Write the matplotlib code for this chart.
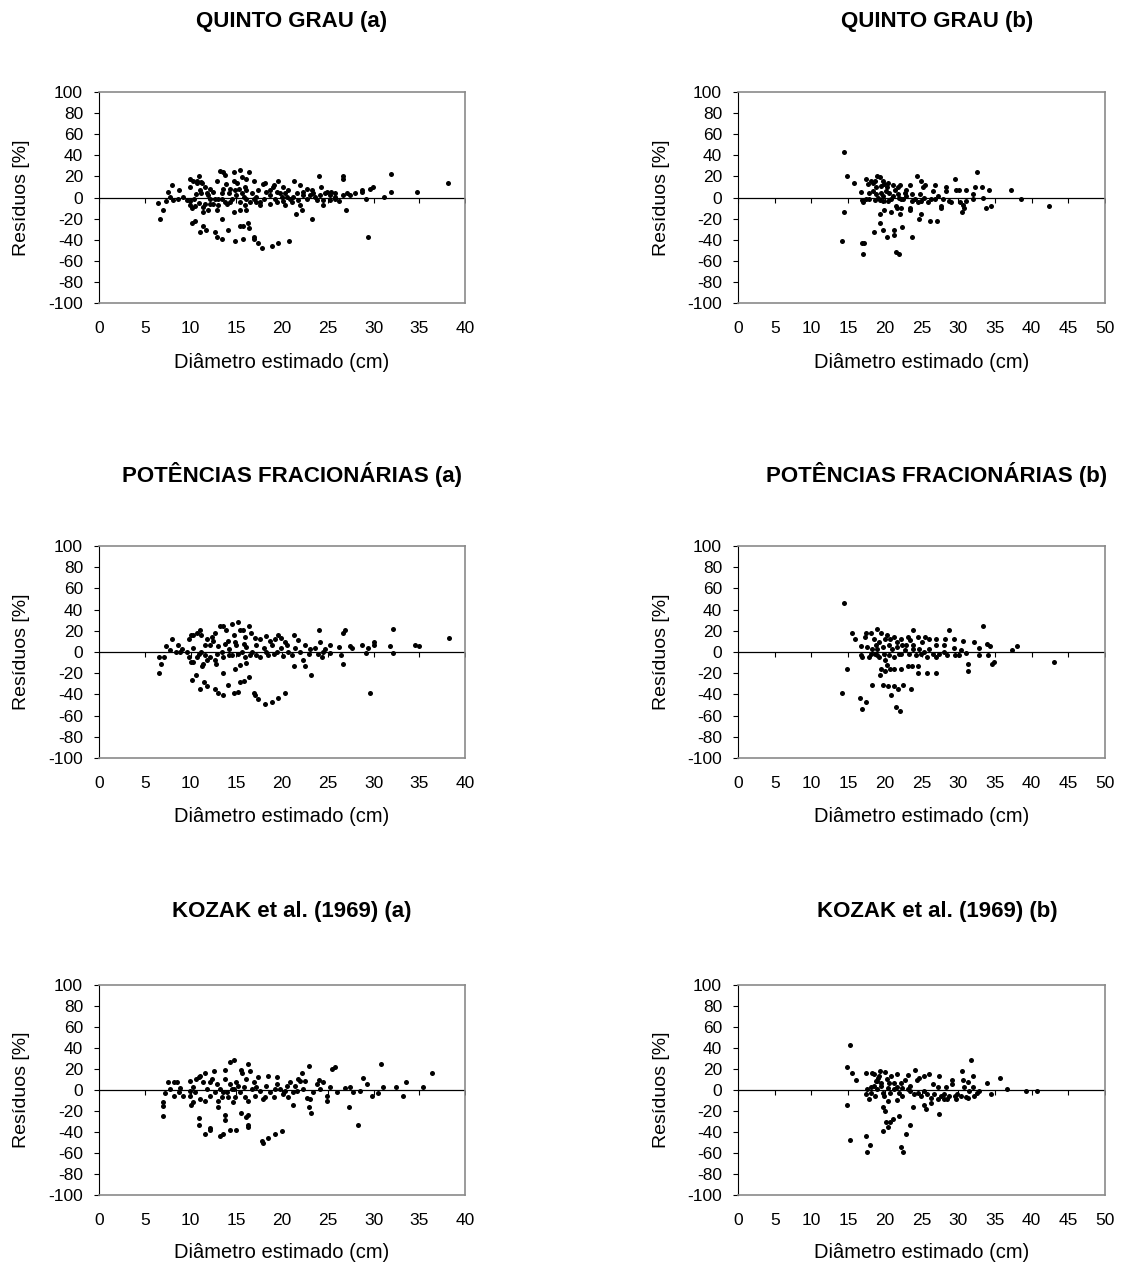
import numpy as np
import matplotlib
matplotlib.use("Agg")
import matplotlib.pyplot as plt

plt.rcParams['font.family'] = ['Liberation Sans', 'DejaVu Sans']

# Resíduos (%) versus diâmetro estimado (cm): pares [x, y]
quinto_a = np.array([
    [6.5, -5], [7.0, -12], [6.7, -20.5], [7.3, -3], [7.5, 5.4], [8.0, 11.7], [7.8, 0.6], [8.1, -2],
    [8.6, -1], [8.7, 7], [9.2, 0.6], [9.6, -2.5], [9.9, -7], [10.2, -10], [9.9, 18], [9.9, 9.5],
    [10.3, 16], [10.7, 16], [10.9, 20], [11.2, 15], [10.6, 3], [10.2, -24.6], [10.5, -22.4],
    [11.0, -33], [11.4, -27], [11.7, -31], [11.4, -13.6], [11.9, -11.4], [11.4, -9], [10.9, -5],
    [11.2, 3.8], [11.6, 10], [12.1, 7.6], [12.5, 5.4], [12.7, -1.6], [12.9, -12], [13.0, -7],
    [12.7, -33], [12.9, -37], [13.4, -39.5], [13.4, -20.5], [14.1, -31], [14.9, -41.7],
    [15.7, -39.5], [15.4, -27], [15.7, -27], [16.3, -24.6], [16.4, -28.8], [16.9, -37], [16.9, -39],
    [17.4, -43.6], [17.8, -48], [18.9, -46], [19.6, -43.6], [20.8, -41.7], [29.4, -37], [13.2, 25],
    [13.5, 24], [13.8, 21], [14.7, 24], [15.4, 26.5], [15.6, 19.6], [16.1, 18], [16.4, 24],
    [16.9, 15.8], [17.9, 13], [14.7, 16], [13.9, 13], [12.9, 15.8], [15.1, 14], [19.6, 15.8],
    [21.3, 15.8], [20.1, 10], [22.0, 11.7], [24.0, 20], [24.3, 9.5], [23.3, 7], [26.7, 20],
    [26.7, 18], [24.9, 5.4], [25.4, 5.4], [26.2, -3], [27.0, -12], [23.3, -20.5], [21.5, -15.8],
    [22.2, -12], [22.0, -7], [24.5, -7], [26.7, 2], [27.4, 2], [28.0, 3.8], [28.7, 7], [28.7, 5.4],
    [29.2, -1], [29.6, 7.6], [29.9, 9.5], [31.1, 0.6], [31.9, 22], [31.9, 5.4], [34.8, 5.4],
    [38.1, 14],
    [13.6, 8.5], [14.2, 3.8], [14.5, -1], [15.0, 2.2], [15.8, 0.6], [16.1, 7], [16.7, 3.8],
    [17.2, 0.6], [17.6, -4], [18.0, -1], [18.3, 5.4], [18.7, 7], [19.1, 11.7], [19.2, -1],
    [19.4, -4], [20.0, 0.6], [20.3, 4.4], [20.7, 7], [20.9, -1], [21.2, 0.6], [21.6, 3.8],
    [21.8, -2], [22.3, 2.2], [22.7, -1], [23.1, 2.2], [23.6, 0.6], [24.2, 2.2], [24.5, -2],
    [25.2, 2.2], [25.8, 4.4], [13.8, -4], [13.4, 3.8], [13.0, -1], [15.4, -4], [16.0, -7],
    [16.1, -11.4], [15.4, -12], [14.7, -13.6], [17.6, -7], [18.7, -5.7], [20.1, -3], [12.1, -1],
    [11.8, 3.8], [14.3, 7.6], [15.3, 7.6], [17.4, 7], [18.1, 13.3], [19.0, 10], [16.1, -1],
    [16.9, -1], [16.5, -4], [19.8, 3.8], [20.5, 0.6], [22.7, 8.5], [22.3, 5.4], [24.7, 3.8],
    [25.2, -2.5], [25.8, -1], [20.3, -7], [14.0, -6], [14.3, -4], [15.6, 3.8], [17.2, -4],
    [12.1, -5.7], [11.6, -5.7], [12.5, -5.7], [11.9, 2.2], [11.0, 7], [10.7, 13.3], [11.3, 14],
    [10.4, -1], [9.9, -3], [10.5, -8], [13.4, -1], [14.9, 7], [16.0, 10], [18.7, 2.2], [19.4, 5.4],
    [21.1, -4], [23.4, 3.8], [23.8, -2.5], [25.8, 0.6], [27.1, 3.8],
])

quinto_b = np.array([
    [14.5, 43.6], [14.8, 20], [14.5, -13.6], [14.2, -41.7], [15.8, 13.6], [16.7, 5.4],
    [16.9, -43.6], [17.2, -43.6], [17.0, -54], [17.0, -4.7], [16.9, -2.5], [17.4, -1.6],
    [17.5, 18], [17.7, 12.6], [17.9, 4.7], [18.1, 15.8], [18.4, 13.3], [18.5, -33], [18.8, 9.5],
    [19.0, 20], [19.3, 19.6], [19.4, -2.5], [19.4, -15.8], [19.4, -24], [19.7, 15.8], [19.7, -30.7],
    [19.9, -12], [19.9, 12.6], [20.2, 6.3], [20.3, -37.3], [20.4, -3], [20.5, 14], [20.9, -13.3],
    [21.1, 11.7], [21.2, -30.7], [21.2, -35.4], [21.5, -52], [21.9, -54], [21.5, -8], [21.6, -9.5],
    [22.1, 11.7], [22.2, -1.6], [22.1, -15.8], [22.2, -9.5], [22.4, -28.4], [22.7, 4.7],
    [23.4, 11.7], [23.4, -10], [23.5, -12], [23.7, -37.3], [24.4, 20], [24.6, -20.5], [24.9, -15.8],
    [24.9, 15.8], [25.2, 10], [25.5, 12], [26.2, -22], [26.8, 12], [27.1, -22], [26.6, 6.3],
    [27.7, -8], [27.7, -9.5], [28.4, 9.5], [28.3, 5.7], [28.8, -3], [29.0, -4.7], [29.5, 18],
    [29.7, 7], [30.1, 7], [30.3, -4.7], [30.5, -13.6], [30.6, -7], [30.8, -9.5], [31.1, 7],
    [31.0, -3], [32.0, 3.2], [32.0, -1.6], [32.3, 9.5], [32.6, 24.3], [33.2, 9.5], [33.4, -0.6],
    [33.8, -9.5], [34.2, 7], [34.5, -8], [37.2, 7], [38.5, -1.6], [42.4, -8],
    [18.4, 6.3], [18.8, 3.2], [19.1, 0], [19.5, 4.7], [19.8, 1.6], [20.6, 3.8], [21.1, 1.6],
    [21.4, 7], [21.8, 3.2], [22.5, -1.6], [22.9, 1.6], [23.7, 3.2], [24.1, -1.6], [24.5, -4.7],
    [24.8, 3.2], [25.4, 0], [25.9, -4.7], [26.3, -1.6], [26.8, -1.6], [27.2, 1.6], [27.9, -1.6],
    [17.9, -1.6], [18.6, -2.5], [19.8, -3], [20.9, -1.6], [22.0, 0], [23.7, -3], [24.9, -3],
    [19.5, 11], [20.3, 9.5], [21.8, 9.5], [22.9, 7], [18.7, 15.8],
])

potencias_a = np.array([
    [6.6, -4.7], [7.1, -4.7], [6.8, -11.7], [6.6, -20], [7.3, 5.7], [7.8, 1.6], [8.0, 12],
    [8.4, 0], [8.6, 7], [8.9, 0], [9.1, 3.2], [9.6, 0], [9.8, -4.7], [10.1, -9.5], [10.3, -9.5],
    [9.8, 12], [10.1, 16.4], [10.3, 15.8], [10.7, 18], [11.0, 20.5], [11.2, 15.8], [10.3, 3.8],
    [10.2, -26], [10.6, -22], [11.0, -34.8], [11.5, -28.4], [11.8, -32], [11.4, -11], [11.3, -13],
    [11.8, -8], [12.7, -8], [12.8, -11], [12.7, -34.8], [13.0, -39], [13.5, -40.4], [13.5, -20],
    [14.1, -30.7], [14.7, -39], [15.2, -37.3], [14.9, -15.8], [15.4, -12], [15.4, -28.4],
    [15.8, -27.5], [16.4, -24], [16.9, -38.6], [17.1, -41], [17.4, -44.6], [18.1, -49],
    [18.9, -47.4], [19.6, -43.3], [20.3, -39], [29.6, -39], [13.2, 24.6], [13.5, 24.6],
    [13.9, 20.5], [14.5, 26.2], [15.2, 28.4], [15.4, 20.5], [15.7, 20.5], [16.4, 24.6], [16.6, 18],
    [14.7, 15.8], [16.0, 14.2], [17.1, 13.6], [12.7, 18], [19.6, 15.8], [19.9, 13.6], [21.3, 15.8],
    [21.8, 11.7], [24.0, 20.5], [24.1, 9.5], [26.7, 18], [26.9, 20.5], [21.3, -13.6], [22.5, -13.6],
    [23.2, -22], [22.3, -7.3], [24.4, -4.7], [26.7, -11.7], [26.4, -3.2], [26.2, 4.7], [27.4, 5.7],
    [27.7, 3.8], [28.7, 7], [29.2, -0.6], [29.4, 3.8], [30.1, 9.5], [30.1, 7], [31.8, 5.7],
    [32.1, 22], [32.1, -1], [34.5, 7], [35.0, 5.7], [38.2, 13.6], [25.2, 7], [24.7, 3.2],
    [12.1, 7], [12.5, 10], [13.0, 5.4], [13.4, 0], [13.8, 7.6], [14.2, 3.2], [14.5, -3.2],
    [15.0, 6.3], [15.6, 0], [16.1, 4.7], [16.7, 0], [17.2, -3.2], [17.6, 12.6], [18.0, 3.8],
    [18.3, 14.8], [18.5, -3.2], [18.9, 7], [19.2, 12.6], [19.4, 0], [19.9, 3.8], [20.3, 9.5],
    [20.7, 0], [21.1, -3.2], [21.4, 3.8], [22.0, 0], [22.5, 7], [22.9, -1.6], [23.1, 3.2],
    [23.6, 3.8], [23.9, -1.6], [24.5, 0], [25.2, -0.6], [11.2, 0], [11.6, -3.2], [12.1, -4.7],
    [12.9, -1.6], [13.6, -4.7], [14.2, -2.5], [15.2, -1.6], [16.0, -4.7], [16.1, -10], [16.5, -2.5],
    [17.6, -4.7], [18.3, 0], [19.1, -1.6], [20.1, -3.8], [10.7, -4.7], [10.9, -1.6], [11.6, 7],
    [11.8, 12.6], [12.3, 13.9], [14.1, 10], [14.9, 9.5], [15.8, 7.9], [17.2, 6.3], [18.7, 10.7],
    [20.5, 6.3],
])

potencias_b = np.array([
    [14.5, 45.8], [15.5, 18], [14.8, -15.8], [14.2, -38.9], [16.0, 12], [16.7, 5.4], [16.7, -3.2],
    [16.9, -4.7], [16.6, -43.3], [17.5, -47.4], [16.95, -53.7], [17.3, 14.2], [17.5, 18],
    [17.6, 4.7], [17.9, -4.7], [18.1, 18], [18.2, -30.7], [18.5, 12.6], [18.6, -1.6], [19.0, 22],
    [19.0, 3.2], [19.3, -22], [19.5, -15.8], [19.5, 18], [19.7, -30.7], [20.0, -18], [20.0, -8],
    [20.3, 15.8], [20.3, -12], [20.4, -32.5], [20.6, -3.2], [20.7, -15.8], [20.9, -41],
    [21.2, -32.5], [21.2, -4.7], [21.3, -15.8], [21.3, 14.2], [21.5, -51.5], [21.8, -34.8],
    [22.1, -56], [22.2, -15.8], [22.2, 12.6], [22.5, -30.7], [23.1, -13.6], [23.1, 14.2],
    [23.6, -34.8], [23.7, -13.6], [23.9, 20.5], [24.5, -13.6], [24.5, -20], [24.5, 14.2],
    [25.1, 9.5], [25.5, 14.2], [25.8, -20], [26.0, 12.6], [27.0, -20], [27.0, 12.6], [27.0, 6.3],
    [28.2, 12.6], [28.1, 6.3], [28.8, 20.5], [29.4, 12.6], [29.4, 3.8], [29.5, -3.2], [30.1, -3.2],
    [30.4, 1.6], [30.7, 10], [31.0, -0.6], [31.3, -11], [31.3, -18], [32.2, 9.5], [32.8, 3.8],
    [32.8, -3.2], [33.4, 24.6], [33.9, 7.9], [34.0, -3.2], [34.3, 5.7], [34.6, -11.7], [34.9, -9.5],
    [37.3, 1.6], [37.95, 5.7], [43.1, -9.5],
    [18.3, 3.2], [18.8, 6.3], [19.2, 9.5], [19.7, 4.7], [19.9, -1.6], [20.6, 6.3], [21.0, 3.2],
    [21.7, 4.7], [21.95, -1.6], [22.4, 6.3], [22.7, 1.6], [23.3, -1.6], [23.5, 11], [23.9, 3.2],
    [24.2, -3.2], [24.7, 3.2], [24.9, -1.6], [25.4, 0], [25.8, -4.7], [26.0, 3.2], [26.5, -1.6],
    [27.0, -4.7], [27.4, -1.6], [28.1, 0], [28.5, -2.5], [19.2, -4.7], [18.1, -1.6], [19.0, -3.2],
    [20.0, 12.6], [20.7, 12.6], [21.7, 9.5], [22.9, 7], [23.8, 6.3], [22.2, -1.6],
])

kozak_a = np.array([
    [7.0, -11.7], [7.0, -14.9], [7.0, -24.4], [7.2, -3.2], [7.5, 7.3], [7.8, 1], [8.2, 7.3],
    [8.5, 7.3], [8.2, -5.4], [8.7, -2.2], [8.9, 1.6], [9.2, -5.4], [9.9, 8.9], [9.9, -5.4],
    [10.1, -14.2], [10.3, -11.7], [10.5, -2.2], [10.6, 10.4], [10.9, 12], [11.0, 13.6],
    [11.6, 16.1], [10.9, -26.9], [10.9, -33.2], [11.6, -41.8], [12.1, -36.1], [12.1, -37.7],
    [12.6, 17.7], [13.0, -16.5], [13.2, -43.4], [13.5, -41.8], [13.8, 19.3], [14.3, 26.3],
    [14.8, 28.5], [13.8, -23.7], [13.8, -28.5], [14.3, -37.7], [15.0, -37.7], [14.6, -11.7],
    [15.5, -22.2], [16.1, -26], [16.3, -23.7], [16.3, -32.9], [16.3, -34.8], [15.5, 19.3],
    [15.6, 16.1], [16.3, 24.7], [16.5, 17.7], [17.8, -48.1], [17.9, -50.3], [18.5, -45.9],
    [19.2, -41.8], [20.0, -39.2], [22.2, 16.1], [23.0, 22.5], [25.8, 21.5], [25.5, 19.9],
    [22.95, -16.5], [23.2, -22.2], [21.2, -14.2], [27.3, -15.8], [28.3, -33.2], [27.8, -2.2],
    [28.8, 11.4], [29.3, 5.7], [29.8, -5.4], [30.5, -3.2], [30.8, 24.7], [31.0, 3.2], [32.5, 3.2],
    [33.2, -5.4], [33.5, 7.3], [35.4, 3.2], [36.4, 16.1], [21.8, 10.4], [22.7, -7.9], [24.0, 9.5],
    [24.5, 7.3], [24.9, -5.4], [24.9, -10.1], [26.0, -2.2], [26.9, 1.6], [27.4, 3.2], [28.5, -0.6],
    [19.4, 5.7], [21.2, -2.2],
    [11.4, 7.3], [11.8, 1], [12.1, -5.4], [12.3, 10.4], [12.9, 5.7], [13.2, 1], [13.4, -7],
    [13.8, 10.4], [14.0, -2.2], [14.3, 5.7], [14.5, 1], [14.9, -7], [15.2, 4.1], [15.4, -2.2],
    [15.8, 2.5], [15.96, -7], [16.1, 10.4], [16.7, 1], [16.9, 7.3], [17.1, -5.4], [17.4, 12],
    [17.6, -0.6], [17.96, -8.5], [18.3, 4.1], [18.5, 13.6], [18.7, -2.2], [19.1, -7], [19.4, 12],
    [19.8, 1], [20.1, -3.8], [20.5, 4.1], [20.7, -7], [20.9, 7.3], [21.4, 4.1], [21.6, -0.6],
    [21.96, 8.9], [22.3, 1], [22.5, 8.9], [23.1, -8.5], [23.4, -2.2], [23.8, 5.7], [24.1, 1],
    [25.2, 2.5], [9.9, -0.6], [10.3, 2.5], [11.0, -8.5], [11.6, -10.1], [12.1, 7.3], [12.7, -2.2],
    [13.0, -10.1], [13.6, -2.2], [14.1, -7], [14.7, 1], [15.0, 7.3], [16.3, -10.1], [17.2, 2.5],
    [18.1, -7], [19.2, 1], [20.3, -0.6],
])

kozak_b = np.array([
    [15.2, 43.2], [14.9, 22], [15.5, 15.8], [16.1, 9.1], [14.9, -14.2], [15.2, -47.9], [17.4, 15.8],
    [17.4, -43.5], [18.0, -52.3], [17.6, -58.6], [17.6, 0.6], [17.4, -4.1], [17.9, -8.8],
    [18.1, 2.8], [18.3, 16.4], [18.5, 15.4], [18.6, -5.7], [19.0, 8.5], [19.1, 11.7], [19.4, 18],
    [19.5, 6.9], [19.8, -16.1], [19.8, -39.4], [19.9, -5.7], [20.0, -19.8], [20.05, 17],
    [20.1, -30.9], [20.3, 10.1], [20.4, -35], [20.5, -10.4], [20.7, -30.9], [20.8, 13.2],
    [21.05, -27.7], [21.3, 6.9], [21.6, 15.4], [21.6, -9.8], [21.95, -24.6], [22.2, -53.9],
    [22.5, -58.6], [22.4, 2.2], [22.8, 9.1], [22.9, -41.9], [23.2, 13.9], [23.5, -33.1],
    [23.9, -16.1], [24.1, 19.5], [24.4, 9.1], [24.7, 11.7], [25.3, -14.2], [25.4, 13.2],
    [25.6, -18.3], [26.0, 15.4], [26.3, -12], [26.5, 5.4], [27.4, 13.2], [27.4, -22.4], [27.2, 2.8],
    [28.0, -4.1], [28.3, 2.8], [28.5, -8.8], [29.2, 9.1], [29.2, 5.4], [29.5, -5.7], [29.9, -4.1],
    [30.5, 18], [30.7, 9.1], [30.8, 2.8], [31.3, 7.6], [31.4, -7.9], [31.7, 28.4], [32.0, 13.2],
    [32.05, 2.8], [32.1, -5.7], [32.6, -2.5], [32.9, -0.9], [33.9, 6.9], [34.5, -3.5], [35.7, 11.3],
    [36.6, 1.3], [39.3, -0.9], [40.8, -0.9],
    [18.1, -2.5], [18.5, 3.8], [19.0, 0.6], [19.5, 3.8], [19.7, -2.5], [20.4, 2.2], [20.7, -2.5],
    [21.2, 0.6], [21.7, 2.8], [21.95, -2.5], [22.4, -5.7], [23.1, 0.6], [23.5, -0.9], [24.0, -4.1],
    [24.5, -2.5], [24.9, -5.7], [25.4, -0.9], [25.8, -4.1], [26.3, -7.2], [26.7, -4.1], [27.2, -8.8],
    [27.6, -5.7], [28.1, -8.8], [28.8, -5.7], [29.7, -8.8], [30.4, -5.7], [31.0, -6.6], [31.5, -0.9],
    [18.8, 8.5], [19.2, 13.2], [20.6, 6.9], [22.2, 6.9], [23.5, 3.8],
])

titles = [
    "QUINTO GRAU (a)", "QUINTO GRAU (b)",
    "POTÊNCIAS FRACIONÁRIAS (a)", "POTÊNCIAS FRACIONÁRIAS (b)",
    "KOZAK et al. (1969) (a)", "KOZAK et al. (1969) (b)",
]
panels = [quinto_a, quinto_b, potencias_a, potencias_b, kozak_a, kozak_b]
x_max = [40, 50, 40, 50, 40, 50]
y_ticks = list(range(-100, 101, 20))
x_label = "Diâmetro estimado (cm)"
y_label = "Resíduos [%]"

W, H = 1126, 1265
fig = plt.figure(figsize=(W / 100, H / 100), dpi=100)

# plot-area boxes in pixels: (left, top, right, bottom)
col_x = [(99, 465), (738, 1105)]
row_y = [(92, 303), (546, 758), (985, 1195)]
title_y = [21, 474, 912]
xlabel_y = [362, 817, 1253]
title_x = [292, 937]

for i, (data, title, xm) in enumerate(zip(panels, titles, x_max)):
    r, c = divmod(i, 2)
    l, rr = col_x[c]
    t, b = row_y[r]
    ax = fig.add_axes([l / W, 1 - b / H, (rr - l) / W, (b - t) / H])
    ax.set_xlim(0, xm)
    ax.set_ylim(-100, 100)

    for side in ("top", "right", "bottom"):
        ax.spines[side].set_color("#8a8a8a")
        ax.spines[side].set_linewidth(1.2)
    ax.spines["left"].set_color("black")
    ax.spines["left"].set_linewidth(0.8)

    ax.set_yticks(y_ticks)
    ax.set_yticklabels([str(v) for v in y_ticks])
    xt = list(range(0, xm + 1, 5))
    ax.set_xticks(xt)
    ax.set_xticklabels([str(v) for v in xt])
    ax.tick_params(axis="y", direction="out", length=3.5, width=0.8, pad=8, labelsize=12.5)
    ax.tick_params(axis="x", length=0, pad=13, labelsize=12.5)

    # horizontal axis crossing at zero, with its tick marks
    ax.axhline(0, color="black", lw=0.9, zorder=2)
    ax.plot(xt, [0] * len(xt), ls="none", marker=3, ms=3.5, mew=0.8, color="black", zorder=2)

    ax.plot(data[:, 0], data[:, 1], ls="none", marker="o", ms=3.6, mec="none", color="black", zorder=3)

    cx = title_x[c]
    fig.text(cx / W, 1 - title_y[r] / H, title, ha="center", va="center",
             fontsize=16, fontweight="bold")
    fig.text(((l + rr) / 2) / W, 1 - xlabel_y[r] / H, x_label, ha="center", va="center",
             fontsize=14.5)
    ylx = 22 if c == 0 else 661
    fig.text(ylx / W, 1 - ((t + b) / 2) / H, y_label, ha="center", va="center",
             rotation=90, fontsize=14)

fig.savefig("out.png", dpi=100)
